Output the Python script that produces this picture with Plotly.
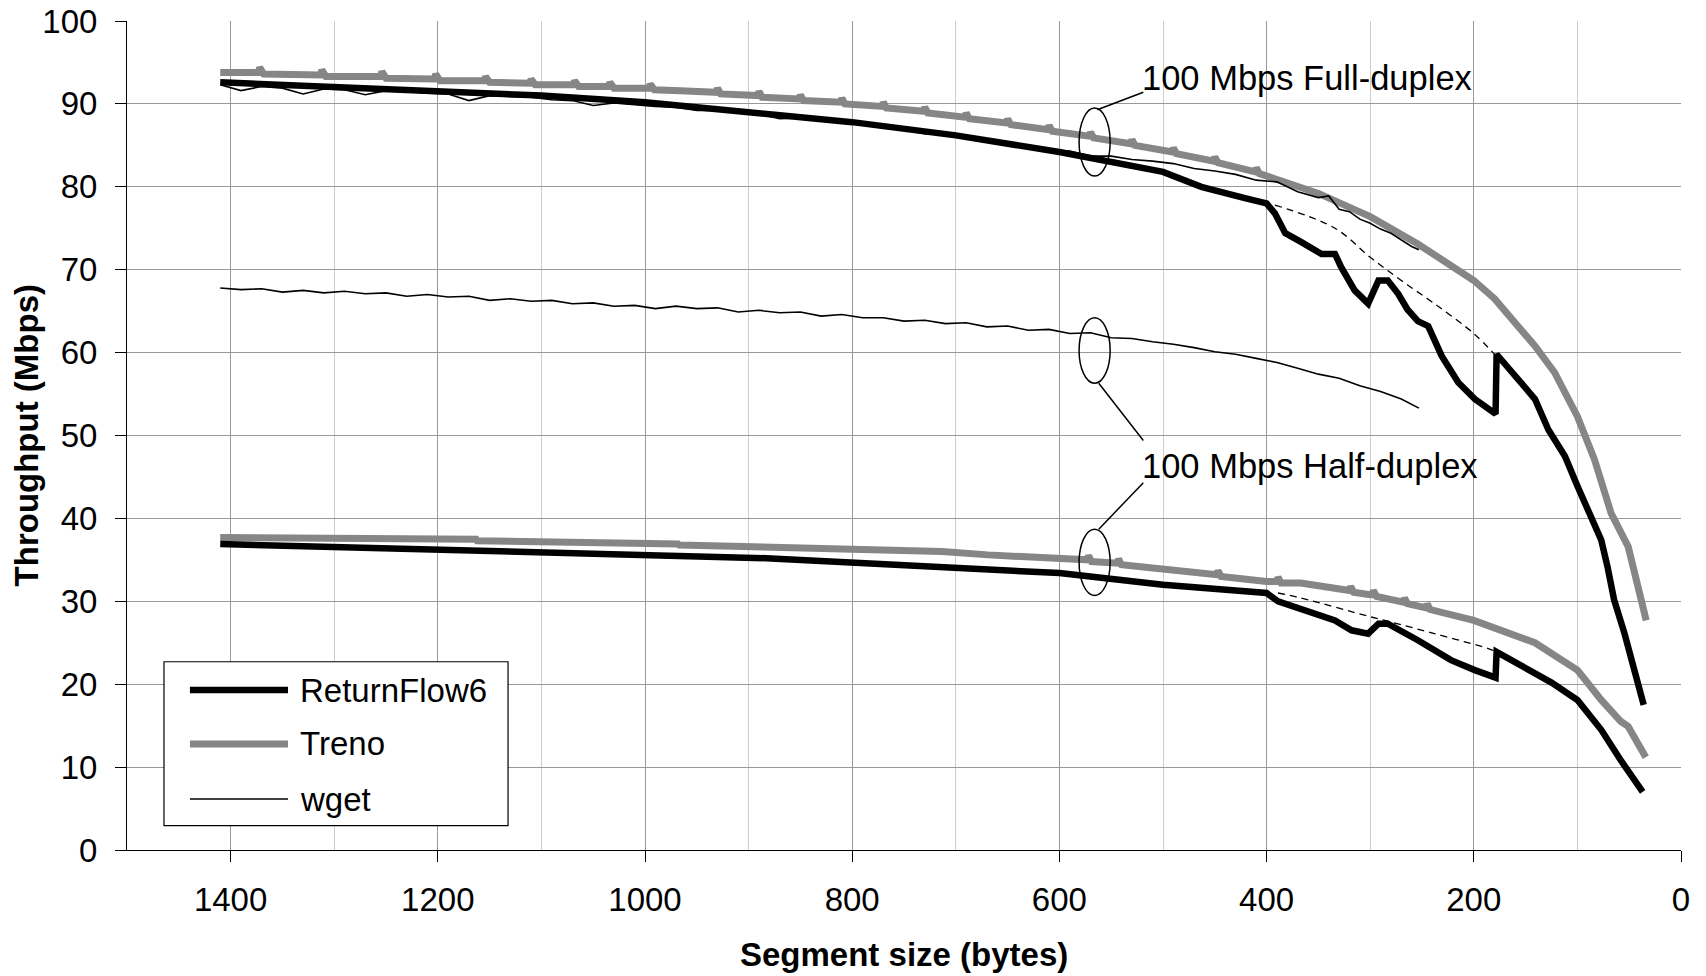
import plotly.graph_objects as go

# ---------------- data ----------------
# Full-duplex, Treno (small saw-teeth included as read)
treno_fd_x = [1410, 1373, 1372, 1368, 1313, 1312, 1308, 1255, 1254, 1250, 1203, 1202, 1198,
              1155, 1154, 1150, 1111, 1110, 1106, 1069, 1068, 1064, 1035, 1034, 1030, 996, 995, 991,
              966, 931, 930, 927, 891, 890, 887, 851, 850, 847, 811, 810, 807, 771, 770, 767,
              731, 730, 727, 691, 690, 687, 651, 650, 647, 611, 610, 607, 571, 570, 567,
              531, 530, 527, 491, 490, 487, 451, 450, 447, 411, 410, 407,
              350, 300, 254, 200, 180, 141, 122, 100, 83.5, 67.4, 60, 56, 51, 41.6, 33.6]
treno_fd_y = [93.8, 93.8, 94.4, 93.6, 93.5, 94.1, 93.3, 93.3, 93.9, 93.1, 93.0, 93.6, 92.8,
              92.8, 93.3, 92.6, 92.5, 93.0, 92.3, 92.3, 92.8, 92.1, 92.1, 92.6, 91.9, 91.9, 92.4, 91.7,
              91.6, 91.4, 91.9, 91.2, 91.0, 91.5, 90.8, 90.6, 91.1, 90.4, 90.2, 90.7, 90.0, 89.7, 90.2, 89.5,
              89.1, 89.6, 88.9, 88.4, 88.9, 88.2, 87.7, 88.2, 87.5, 86.9, 87.4, 86.7, 86.1, 86.6, 85.9,
              85.2, 85.7, 85.0, 84.2, 84.7, 84.0, 83.1, 83.6, 82.9, 81.8, 82.3, 81.6,
              79.2, 76.4, 73.1, 68.7, 66.5, 60.8, 57.6, 52.3, 47.1, 40.6, 38.6, 37.9, 36.6, 31.8, 27.7]

# Full-duplex, ReturnFlow6
rf6_fd_x = [1410, 1300, 1200, 1100, 1000, 900, 800, 700, 600, 500, 463, 420, 400, 392, 382, 366,
            347, 334, 328, 315, 302, 292, 283, 273, 264, 254, 244, 231, 215, 199, 183, 179, 178,
            174, 158, 141, 128, 112, 100, 87, 77, 71, 64.6, 54.5, 45, 36]
rf6_fd_y = [92.6, 92.1, 91.6, 91.0, 90.2, 89.0, 87.8, 86.2, 84.2, 81.8, 80.0, 78.6, 78.0, 76.8, 74.4, 73.3,
            71.9, 71.9, 70.3, 67.5, 65.9, 68.7, 68.7, 67.1, 65.2, 63.8, 63.2, 59.6, 56.4, 54.4, 53.1, 52.6, 59.8,
            59.2, 56.8, 54.4, 50.7, 47.5, 43.9, 40.2, 37.4, 34.2, 30.2, 26.1, 21.7, 17.5]

# Full-duplex, wget
wget_fd_x = [1410, 1390, 1370, 1350, 1330, 1310, 1290, 1270, 1250, 1230, 1210, 1190, 1170, 1150,
             1130, 1110, 1090, 1070, 1050, 1030, 1010, 990, 970, 950, 930, 910, 890, 870, 850, 830,
             810, 790, 770, 750, 730, 710, 690, 670, 650, 630, 610, 590, 570, 550, 530, 510, 490,
             470, 450, 430, 410, 390, 370, 350, 340, 330, 320, 310, 300, 290, 280, 270, 260, 253]
wget_fd_y = [92.3, 91.6, 92.1, 91.9, 91.2, 91.8, 91.7, 91.1, 91.6, 91.5, 91.3, 91.2, 90.4, 91.0,
             90.9, 90.8, 90.5, 90.4, 89.8, 90.1, 89.9, 89.7, 89.6, 89.2, 89.2, 88.9, 88.8, 88.2, 88.3, 88.0,
             87.8, 87.5, 87.1, 86.9, 86.4, 86.3, 85.8, 85.6, 85.1, 84.9, 84.4, 84.3, 83.7, 83.7, 83.3, 83.1, 82.8,
             82.2, 81.9, 81.5, 80.8, 80.6, 79.4, 78.7, 78.9, 77.3, 77.0, 76.1, 75.6, 74.9, 74.4, 73.6, 72.8, 72.4]

# Half-duplex, Treno
treno_hd_x = [1410, 1301, 1300, 1163, 1162, 1062, 1061, 968, 967, 884, 823, 713, 669, 630, 600,
              573, 572, 569, 544, 543, 540, 500, 448, 447, 444, 400, 390, 389, 386, 367,
              320, 319, 316, 300, 298, 297, 294, 268, 267, 264, 246, 245, 242,
              200, 174, 141, 100, 77, 58, 51, 34]
treno_hd_y = [37.7, 37.7, 37.5, 37.5, 37.3, 37.2, 37.1, 36.9, 36.8, 36.5, 36.4, 36.0, 35.6, 35.3, 35.0,
              35.0, 35.5, 34.8, 34.6, 35.1, 34.4, 33.8, 33.2, 33.7, 33.0, 32.4, 32.4, 32.9, 32.2, 32.2,
              31.3, 31.8, 31.1, 30.8, 30.8, 31.3, 30.6, 29.9, 30.4, 29.7, 29.2, 29.7, 29.0,
              27.7, 26.6, 25.0, 21.7, 18.1, 15.5, 14.9, 11.2]

# Half-duplex, ReturnFlow6
rf6_hd_x = [1410, 1273, 1169, 1081, 1004, 883, 773, 663, 600, 500, 400, 389, 366, 334, 318, 302,
            292, 283, 254, 222, 199, 183, 179, 178, 158, 125, 100, 77, 58, 37]
rf6_hd_y = [36.9, 36.5, 36.2, 35.8, 35.6, 35.2, 34.5, 33.8, 33.4, 32.0, 31.0, 30.0, 29.0, 27.7, 26.5, 26.1,
            27.3, 27.3, 25.3, 22.9, 21.7, 20.9, 20.8, 23.9, 22.5, 20.2, 18.1, 14.5, 10.8, 7.0]

# Half-duplex, wget
wget_hd_x = [1410, 1390, 1370, 1350, 1330, 1310, 1290, 1270, 1250, 1230, 1210, 1190, 1170, 1150,
             1130, 1110, 1090, 1070, 1050, 1030, 1010, 990, 970, 950, 930, 910, 890, 870, 850, 830,
             810, 790, 770, 750, 730, 710, 690, 670, 650, 630, 610, 590, 570, 550, 530, 510, 490,
             470, 450, 430, 410, 390, 370, 350, 330, 310, 290, 270, 253]
wget_hd_y = [67.8, 67.6, 67.7, 67.3, 67.5, 67.2, 67.4, 67.1, 67.2, 66.8, 67.0, 66.7, 66.8, 66.3,
             66.5, 66.2, 66.3, 65.9, 66.0, 65.6, 65.7, 65.3, 65.6, 65.3, 65.4, 64.9, 65.1, 64.8, 64.9, 64.4,
             64.6, 64.2, 64.2, 63.8, 63.9, 63.5, 63.6, 63.1, 63.2, 62.7, 62.8, 62.3, 62.4, 61.8, 61.7, 61.3, 61.0,
             60.6, 60.1, 59.8, 59.3, 58.8, 58.1, 57.4, 56.9, 56.0, 55.3, 54.4, 53.3]

# Dashed reference curves
dash_fd_x = [392, 334, 300, 270, 238, 200, 180]
dash_fd_y = [77.8, 75.0, 71.5, 68.7, 65.9, 62.3, 59.8]
dash_hd_x = [389, 367, 302, 283, 238, 186, 180]
dash_hd_y = [31.0, 30.4, 28.2, 27.6, 26.1, 24.3, 24.0]

x_ticks = [1400, 1200, 1000, 800, 600, 400, 200, 0]
y_ticks = [0, 10, 20, 30, 40, 50, 60, 70, 80, 90, 100]

legend_names = ["ReturnFlow6", "Treno", "wget"]
label_full = "100 Mbps Full-duplex"
label_half = "100 Mbps Half-duplex"

# ---------------- styles ----------------
FONT = "Liberation Sans, Arial, sans-serif"
FS = 33
FS_ANN = 34.5
BLACK = "#000000"
GRAY = "#868686"
styles = {
    "ReturnFlow6": dict(color=BLACK, width=6.5),
    "Treno": dict(color=GRAY, width=7),
    "wget": dict(color=BLACK, width=1.6),
}

fig = go.Figure()

def add(x, y, name, **extra):
    st = dict(styles[name])
    st.update(extra)
    fig.add_trace(go.Scatter(x=x, y=y, mode="lines", name=name, showlegend=False,
                             line=st, hoverinfo="skip"))

add(treno_fd_x, treno_fd_y, "Treno")
add(treno_hd_x, treno_hd_y, "Treno")
add(rf6_fd_x, rf6_fd_y, "ReturnFlow6")
add(rf6_hd_x, rf6_hd_y, "ReturnFlow6")
add(wget_fd_x, wget_fd_y, "wget")
add(wget_hd_x, wget_hd_y, "wget")
fig.add_trace(go.Scatter(x=dash_fd_x, y=dash_fd_y, mode="lines", showlegend=False,
                         line=dict(color=BLACK, width=1.3, dash="7px,5px"), line_shape="spline",
                         hoverinfo="skip"))
fig.add_trace(go.Scatter(x=dash_hd_x, y=dash_hd_y, mode="lines", showlegend=False,
                         line=dict(color=BLACK, width=1.3, dash="7px,5px"), line_shape="spline",
                         hoverinfo="skip"))

shapes = []
# ellipses and leader lines for labels
ell = dict(type="circle", xref="x", yref="y", line=dict(color=BLACK, width=1.5), layer="above")
shapes.append(dict(ell, x0=581, x1=551, y0=81.3, y1=89.5))
shapes.append(dict(ell, x0=581, x1=551, y0=56.3, y1=64.2))
shapes.append(dict(ell, x0=581, x1=551, y0=30.7, y1=38.7))
ln = dict(type="line", xref="x", yref="y", line=dict(color=BLACK, width=1.5), layer="above")
shapes.append(dict(ln, x0=563.5, y0=89.3, x1=519, y1=91.4))
shapes.append(dict(ln, x0=562, y0=56.3, x1=519, y1=49.4))
shapes.append(dict(ln, x0=519, y0=44.3, x1=562, y1=38.7))

# legend box (paper coords)
shapes.append(dict(type="rect", xref="paper", yref="paper", x0=0.0238, x1=0.2452, y0=0.0293, y1=0.2271,
                   line=dict(color=BLACK, width=1.2), fillcolor="white", layer="above"))
leg_y = [0.193, 0.1279, 0.0615]
for name, yy in zip(legend_names, leg_y):
    st = styles[name]
    shapes.append(dict(type="line", xref="paper", yref="paper", x0=0.0405, x1=0.1036, y0=yy, y1=yy,
                       line=dict(color=st["color"], width=st["width"]), layer="above"))

annotations = []
for name, yy in zip(legend_names, leg_y):
    annotations.append(dict(xref="paper", yref="paper", x=0.110, y=yy, text=name, showarrow=False,
                            xanchor="left", yanchor="middle", font=dict(size=FS, color=BLACK, family=FONT)))
annotations.append(dict(xref="x", yref="y", x=522, y=93.15, text=label_full, showarrow=False,
                        xanchor="left", yanchor="middle", font=dict(size=FS_ANN, color=BLACK, family=FONT)))
annotations.append(dict(xref="x", yref="y", x=522, y=46.3, text=label_half, showarrow=False,
                        xanchor="left", yanchor="middle", font=dict(size=FS_ANN, color=BLACK, family=FONT)))
# axis titles
annotations.append(dict(xref="paper", yref="paper", x=0.5, y=-0.1266, text="<b>Segment size (bytes)</b>",
                        showarrow=False, xanchor="center", yanchor="middle",
                        font=dict(size=FS, color=BLACK, family=FONT)))
annotations.append(dict(xref="paper", yref="paper", x=-0.0644, y=0.5, text="<b>Throughput (Mbps)</b>",
                        showarrow=False, xanchor="center", yanchor="middle", textangle=-90,
                        font=dict(size=FS, color=BLACK, family=FONT)))

fig.update_layout(
    width=1706, height=976,
    margin=dict(l=127, r=25, t=21, b=126, autoexpand=False),
    paper_bgcolor="white", plot_bgcolor="white",
    font=dict(family=FONT, size=FS, color=BLACK),
    shapes=shapes, annotations=annotations, showlegend=False,
    xaxis=dict(range=[1500, 0], tickmode="array", tickvals=x_ticks, ticktext=[str(v) for v in x_ticks],
               showgrid=True, gridcolor="#999999", gridwidth=1, automargin=False,
               minor=dict(dtick=100, tick0=0, showgrid=True, gridcolor="#cccccc", gridwidth=1, ticks=""),
               showline=True, linecolor=BLACK, linewidth=1, ticks="outside", ticklen=11,
               tickcolor=BLACK, tickwidth=1, zeroline=False, ticklabelstandoff=9,
               tickfont=dict(size=FS, family=FONT, color=BLACK)),
    yaxis=dict(range=[0, 100], tickmode="array", tickvals=y_ticks, ticktext=[str(v) for v in y_ticks],
               showgrid=True, gridcolor="#999999", gridwidth=1, automargin=False,
               showline=True, linecolor=BLACK, linewidth=1, ticks="outside", ticklen=11,
               tickcolor=BLACK, tickwidth=1, zeroline=False, ticklabelstandoff=11,
               tickfont=dict(size=FS, family=FONT, color=BLACK)),
)

fig.write_html("out.html", config={"displayModeBar": False},
               post_script="document.body.style.margin='0';")
